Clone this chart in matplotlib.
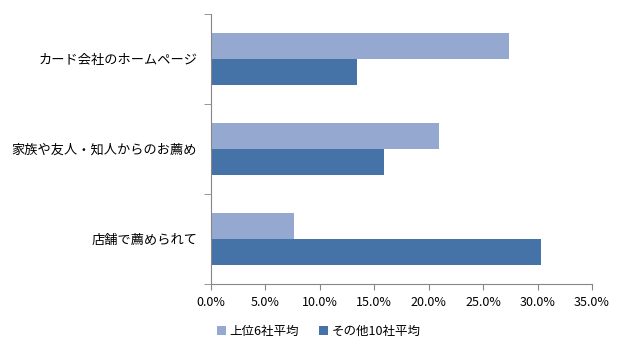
import matplotlib
matplotlib.use("Agg")
import matplotlib.pyplot as plt
import numpy as np
from matplotlib.ticker import FuncFormatter

plt.rcParams['font.family'] = ['Noto Sans CJK JP', 'DejaVu Sans']

categories = ["カード会社のホームページ", "家族や友人・知人からのお薦め", "店舗で薦められて"]
series_names = ["上位6社平均", "その他10社平均"]
top6 = [27.4, 20.9, 7.6]
others10 = [13.4, 15.9, 30.3]
colors = ["#95A9D0", "#4573A8"]
xticks = [0, 5, 10, 15, 20, 25, 30, 35]

fig = plt.figure(figsize=(6.27, 3.54), dpi=100)
ax = fig.add_axes([211/627, 1-284/354, (592-211)/627, (284-14)/354])

y = np.arange(len(categories))
h = 26/90
ax.barh(y - h/2, top6, height=h, color=colors[0], label=series_names[0])
ax.barh(y + h/2, others10, height=h, color=colors[1], label=series_names[1])

ax.set_ylim(len(categories) - 0.5, -0.5)
ax.set_xlim(0, 35)
ax.set_xticks(xticks)
ax.xaxis.set_major_formatter(FuncFormatter(lambda v, p: f"{v:.1f}%"))
ax.set_yticks(y)
ax.set_yticklabels(categories, fontsize=9.5)
ax.set_yticks([-0.5, 0.5, 1.5, 2.5], minor=True)

for s in ["top", "right"]:
    ax.spines[s].set_visible(False)
for s in ["left", "bottom"]:
    ax.spines[s].set_color("#868686")
ax.tick_params(axis="y", which="major", length=0, pad=10)
ax.tick_params(axis="y", which="minor", length=5, color="#868686", direction="out")
ax.tick_params(axis="x", length=4, color="#868686", direction="out", labelsize=9, pad=5)

leg = fig.legend(loc="lower center", bbox_to_anchor=(0.508, 0.013), ncol=2, frameon=False,
                 fontsize=9, handlelength=0.7, handleheight=0.7, handletextpad=0.3, columnspacing=1.6)

fig.savefig("out.png", dpi=100)
